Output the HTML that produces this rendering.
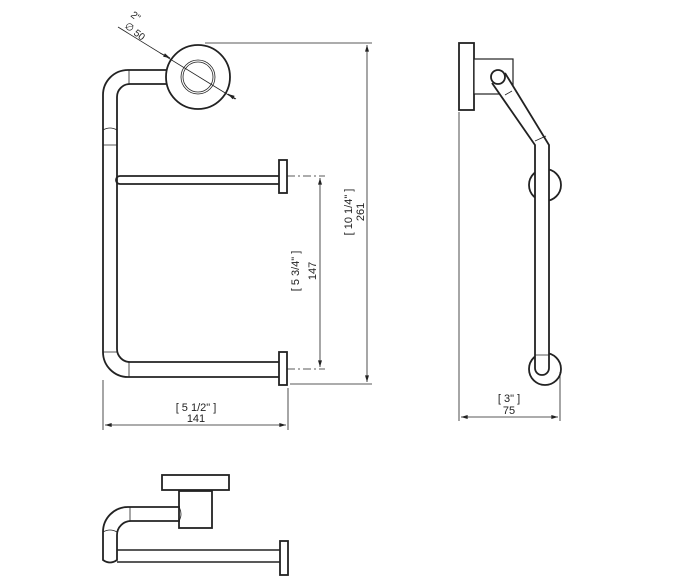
<!DOCTYPE html>
<html><head><meta charset="utf-8"><style>html,body{margin:0;padding:0;background:#fff}svg{display:block}</style></head>
<body>
<svg width="675" height="580" viewBox="0 0 675 580" xmlns="http://www.w3.org/2000/svg" font-family="Liberation Sans, sans-serif" font-size="11" fill="none" stroke="#222">
<defs>
<marker id="a" viewBox="0 0 10 6" refX="10" refY="3" markerWidth="9" markerHeight="5" orient="auto-start-reverse"><path d="M0,0L10,3L0,6z" fill="#222" stroke="none"/></marker>
</defs>
<!-- FRONT VIEW -->
<g stroke-width="1.8">
<path d="M180,70 H128 A25,25 0 0 0 103,95 V352 A25,25 0 0 0 128,377 H280"/>
<path d="M180,84 H130 A13,13 0 0 0 117,97 V349 A13,13 0 0 0 130,362 H280"/>
<circle cx="198" cy="77" r="32" fill="#fff"/>
<path d="M120,176 H280 M120,184 H280 M120,176 A4,4 0 0 0 120,184"/>
<rect x="279" y="160" width="8" height="33" fill="#fff"/>
<rect x="279" y="352" width="8" height="33" fill="#fff"/>
</g>
<g stroke-width="0.8">
<circle cx="198" cy="77" r="17"/><circle cx="198" cy="77" r="15"/>
<path d="M129,70V84 M103,130 Q110,126 117,130 M103,145H117 M103,352H117 M129,362V377"/>
<path d="M287,176H325 M287,369H325" stroke-dasharray="8,3,2,3"/>
<path d="M320,178V367" marker-start="url(#a)" marker-end="url(#a)"/>
<path d="M205,43H372 M290,384H372"/>
<path d="M367,45V382" marker-start="url(#a)" marker-end="url(#a)"/>
<path d="M103,380V430 M288,388V430"/>
<path d="M105,425H286" marker-start="url(#a)" marker-end="url(#a)"/>
<path d="M118,27L235,99" />
<path d="M160,53L170,58" marker-end="url(#a)"/>
<path d="M236,99L228,94" marker-end="url(#a)"/>
</g>
<g fill="#222" stroke="none">
<text transform="translate(299,271) rotate(-90)" text-anchor="middle">[ 5 3/4" ]</text>
<text transform="translate(316,271) rotate(-90)" text-anchor="middle">147</text>
<text transform="translate(352,212) rotate(-90)" text-anchor="middle">[ 10 1/4" ]</text>
<text transform="translate(364,212) rotate(-90)" text-anchor="middle">261</text>
<text x="196" y="411" text-anchor="middle">[ 5 1/2" ]</text>
<text x="196" y="422" text-anchor="middle">141</text>
<text transform="translate(130,16) rotate(38)" font-size="10">2"</text>
<text transform="translate(124,27) rotate(38)" font-size="10">∅ 50</text>
</g>
<!-- SIDE VIEW -->
<g stroke-width="1.8">
<rect x="459" y="43" width="15" height="67" fill="#fff"/>
<rect x="474" y="59" width="39" height="35" fill="#fff" stroke-width="1.2"/>
<circle cx="545" cy="185" r="16" fill="#fff"/>
<circle cx="545" cy="369" r="16" fill="#fff"/>
<path d="M492,83 L535,145 V368 A7,7 0 0 0 549,368 V145 L505,73" fill="#fff"/>
<circle cx="498" cy="77" r="7" fill="#fff"/>
</g>
<g stroke-width="0.8">
<path d="M505,95L512,91 M535,141L546,136 M535,355H549"/>
<path d="M459,112V421 M560,372V421"/>
<path d="M461,417H558" marker-start="url(#a)" marker-end="url(#a)"/>
</g>
<g fill="#222" stroke="none">
<text x="509" y="402" text-anchor="middle">[ 3" ]</text>
<text x="509" y="414" text-anchor="middle">75</text>
</g>
<!-- BOTTOM VIEW -->
<g stroke-width="1.8">
<rect x="162" y="475" width="67" height="15" fill="#fff"/>
<rect x="179" y="491" width="33" height="37" fill="#fff"/>
<path d="M180,507 H128 A25,25 0 0 0 103,532 V560 Q110,565 117,560 V535 A14,14 0 0 1 131,521 H180"/>
<path d="M117,550H281 M117,562H281" stroke-width="1.5"/>
<rect x="280" y="541" width="8" height="34" fill="#fff"/>
</g>
<path d="M130,507V521 M103,532Q110,528 117,532 M179,507Q183,514 179,521" stroke-width="0.8"/>
</svg>
</body></html>
